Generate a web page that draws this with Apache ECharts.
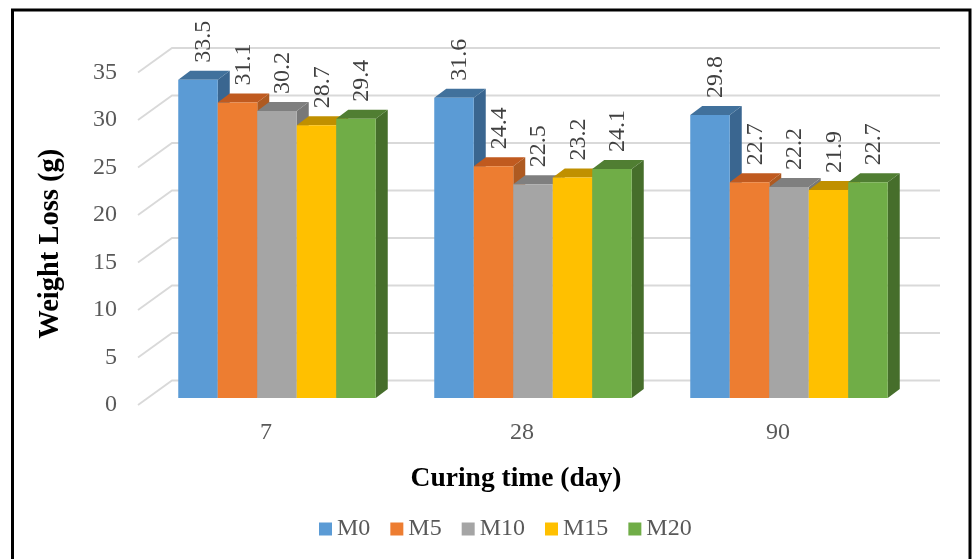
<!DOCTYPE html>
<html>
<head>
<meta charset="utf-8">
<title>Weight Loss vs Curing Time</title>
<script src="https://cdn.jsdelivr.net/npm/echarts@6/dist/echarts.min.js"></script>
<style>
  html, body { margin: 0; padding: 0; background: #fff; }
  #chart { width: 972px; height: 559px; }
</style>
</head>
<body>
<div id="chart"></div>
<script>
// Curing time categories (days)
const categories = ['7', '28', '90'];

// Weight loss (g) for each mix
const M0  = [33.5, 31.6, 29.8];
const M5  = [31.1, 24.4, 22.7];
const M10 = [30.2, 22.5, 22.2];
const M15 = [28.7, 23.2, 21.9];
const M20 = [29.4, 24.1, 22.7];

const seriesNames = ['M0', 'M5', 'M10', 'M15', 'M20'];
const seriesValues = [M0, M5, M10, M15, M20];

// Value-axis ticks
const yTicks = [0, 5, 10, 15, 20, 25, 30, 35];

// Face colours: front, top, side
const palette = [
  { front: '#5B9BD5', top: '#41719C', side: '#3A6690' },
  { front: '#ED7D31', top: '#C05A1F', side: '#AE5A21' },
  { front: '#A5A5A5', top: '#7F7F7F', side: '#787878' },
  { front: '#FFC000', top: '#C09000', side: '#B38600' },
  { front: '#70AD47', top: '#507E32', side: '#466E2B' }
];

const FONT = "'Liberation Serif', 'Times New Roman', serif";

// Oblique projection offsets (pixels)
const FRONT_DX = 11, FRONT_DY = -7;   // bar front face behind floor edge
const DEPTH_DX = 12, DEPTH_DY = -9;   // bar depth
const WALL_DX = 34, WALL_DY = -24.5;  // back wall
const GROUP_FRACTION = 0.7715;        // share of category band used by bars

const chart = echarts.init(document.getElementById('chart'), null, { renderer: 'canvas' });

function barRenderer(idx) {
  const col = palette[idx];
  return function (params, api) {
    const cat = api.value(0);
    const val = api.value(1);
    const base = api.coord([cat, 0]);
    const top = api.coord([cat, val]);
    const band = api.size([1, 0])[0];
    const bw = band * GROUP_FRACTION / seriesNames.length;
    const x0 = base[0] - bw * seriesNames.length / 2 + idx * bw + FRONT_DX;
    const x1 = x0 + bw;
    const yb = base[1] + FRONT_DY;
    const yt = top[1] + FRONT_DY;
    return {
      type: 'group',
      children: [
        {
          type: 'polygon',
          shape: { points: [[x1, yt], [x1 + DEPTH_DX, yt + DEPTH_DY], [x1 + DEPTH_DX, yb + DEPTH_DY], [x1, yb]] },
          style: { fill: col.side }
        },
        {
          type: 'polygon',
          shape: { points: [[x0, yt], [x1, yt], [x1 + DEPTH_DX, yt + DEPTH_DY], [x0 + DEPTH_DX, yt + DEPTH_DY]] },
          style: { fill: col.top }
        },
        {
          type: 'rect',
          shape: { x: x0, y: yt, width: bw, height: yb - yt },
          style: { fill: col.front }
        },
        {
          type: 'text',
          x: (x0 + x1) / 2 + DEPTH_DX / 2,
          y: yt + DEPTH_DY - 8,
          rotation: Math.PI / 2,
          style: {
            text: val.toFixed(1),
            align: 'left',
            verticalAlign: 'middle',
            fill: '#404040',
            font: '24px ' + FONT
          }
        }
      ]
    };
  };
}

// Walls: slanted side-wall segment plus horizontal back-wall line for every tick
function gridRenderer(params, api) {
  const v = api.value(1);
  const y = api.coord([0, v])[1];
  const cs = params.coordSys;
  const xl = cs.x;
  const xr = cs.x + cs.width;
  return {
    type: 'polyline',
    shape: { points: [[xl, y], [xl + WALL_DX, y + WALL_DY], [xr + WALL_DX, y + WALL_DY]] },
    style: { stroke: '#D9D9D9', lineWidth: 1.8, fill: null }
  };
}

const series = [
  {
    name: '__grid',
    type: 'custom',
    renderItem: gridRenderer,
    data: yTicks.map(function (t) { return [0, t]; }),
    encode: { x: 0, y: 1 },
    silent: true,
    z: 1
  }
];

seriesNames.forEach(function (name, i) {
  series.push({
    name: name,
    type: 'custom',
    renderItem: barRenderer(i),
    data: seriesValues[i].map(function (v, c) { return [c, v]; }),
    encode: { x: 0, y: 1 },
    itemStyle: { color: palette[i].front },
    z: 2
  });
});

const option = {
  animation: false,
  backgroundColor: '#ffffff',
  textStyle: { fontFamily: FONT },
  grid: { left: 138, right: 66, top: 72.5, bottom: 154 },
  xAxis: {
    type: 'category',
    data: categories,
    axisLine: { show: false },
    axisTick: { show: false },
    splitLine: { show: false },
    axisLabel: { fontSize: 24, color: '#595959', fontFamily: FONT, margin: 16 },
    name: 'Curing time (day)',
    nameLocation: 'middle',
    nameGap: 60,
    nameTextStyle: { fontSize: 27.5, fontWeight: 'bold', color: '#000', fontFamily: FONT, padding: [0, 12, 0, 0] }
  },
  yAxis: {
    type: 'value',
    min: 0,
    max: 35,
    interval: 5,
    axisLine: { show: false },
    axisTick: { show: false },
    splitLine: { show: false },
    axisLabel: { fontSize: 24, color: '#595959', fontFamily: FONT, margin: 21 },
    name: 'Weight Loss (g)',
    nameLocation: 'middle',
    nameGap: 73,
    nameTextStyle: { fontSize: 28.5, fontWeight: 'bold', color: '#000', fontFamily: FONT, padding: [0, 10, 0, 0] }
  },
  legend: {
    data: seriesNames,
    left: 314,
    top: 512,
    icon: 'rect',
    itemWidth: 13,
    itemHeight: 13,
    itemGap: 20,
    textStyle: { fontSize: 24, color: '#595959', fontFamily: FONT }
  },
  graphic: [
    {
      type: 'rect',
      shape: { x: 12.5, y: 10, width: 957.5, height: 600 },
      style: { fill: null, stroke: '#000', lineWidth: 3 },
      silent: true,
      z: 100
    }
  ],
  series: series
};

chart.setOption(option);
</script>
</body>
</html>
